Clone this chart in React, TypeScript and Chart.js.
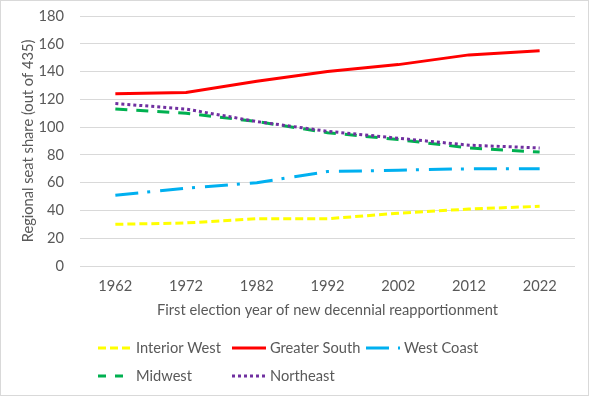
import React, { useEffect, useRef } from "react";
import Chart from "chart.js/auto";

const years = ["1962", "1972", "1982", "1992", "2002", "2012", "2022"];
const interiorWest = [30, 31, 34, 34, 38, 41, 43];
const greaterSouth = [124, 125, 133, 140, 145, 152, 155];
const westCoast = [51, 56, 60, 68, 69, 70, 70];
const midwest = [113, 110, 104, 96, 91, 85, 82];
const northeast = [117, 113, 104, 97, 92, 87, 85];

const yTitle = "Regional seat share (out of 435)";
const xTitle = "First election year of new decennial reapportionment";

const FONT = "Lato, 'Open Sans', sans-serif";
const FS = 14.67;
const TEXT = "#595959";
const GRID = "#d9d9d9";

const legendLayout = [
  { idx: 0, x: 98, y: 348 },
  { idx: 1, x: 232, y: 348 },
  { idx: 2, x: 366, y: 348 },
  { idx: 3, x: 98, y: 376 },
  { idx: 4, x: 232, y: 376 },
];

const customLegend = {
  id: "customLegend",
  beforeDraw(chart: any) {
    const ctx = chart.ctx;
    ctx.save();
    ctx.fillStyle = "#ffffff";
    ctx.fillRect(0, 0, chart.width, chart.height);
    ctx.strokeStyle = GRID;
    ctx.lineWidth = 1;
    ctx.strokeRect(0.5, 0.5, chart.width - 1, chart.height - 1);
    ctx.restore();
  },
  afterDraw(chart: any) {
    const ctx = chart.ctx;
    ctx.save();
    legendLayout.forEach((item) => {
      const ds = chart.data.datasets[item.idx];
      ctx.beginPath();
      ctx.strokeStyle = ds.borderColor;
      ctx.lineWidth = ds.borderWidth;
      ctx.setLineDash(ds.legendDash || ds.borderDash || []);
      ctx.lineCap = "butt";
      ctx.moveTo(item.x, item.y);
      ctx.lineTo(item.x + 34, item.y);
      ctx.stroke();
      ctx.setLineDash([]);
      ctx.fillStyle = TEXT;
      ctx.font = `${FS}px ${FONT}`;
      ctx.textBaseline = "middle";
      ctx.textAlign = "left";
      ctx.fillText(ds.label, item.x + 38, item.y);
    });
    ctx.restore();
  },
};

export default function App() {
  const ref = useRef<HTMLCanvasElement>(null);
  useEffect(() => {
    if (!ref.current) return;
    const chart = new Chart(ref.current, {
      type: "line",
      data: {
        labels: years,
        datasets: [
          {
            label: "Interior West",
            data: interiorWest,
            borderColor: "#FFFF00",
            borderWidth: 3,
            borderDash: [8, 4],
            pointRadius: 0,
            order: 5,
          },
          {
            label: "Greater South",
            data: greaterSouth,
            borderColor: "#FF0000",
            borderWidth: 3,
            pointRadius: 0,
            order: 4,
          },
          {
            label: "West Coast",
            data: westCoast,
            borderColor: "#00B0F0",
            borderWidth: 3,
            borderDash: [23, 9, 3, 10],
            legendDash: [23, 9, 2, 10],
            pointRadius: 0,
            order: 3,
          },
          {
            label: "Midwest",
            data: midwest,
            borderColor: "#00B050",
            borderWidth: 3,
            borderDash: [12, 9],
            legendDash: [8, 9],
            pointRadius: 0,
            order: 2,
          },
          {
            label: "Northeast",
            data: northeast,
            borderColor: "#7030A0",
            borderWidth: 3,
            borderDash: [3, 3],
            pointRadius: 0,
            order: 1,
          },
        ] as any,
      },
      options: {
        responsive: false,
        animation: false,
        layout: { autoPadding: false, padding: { left: 0, right: 14, top: 16, bottom: 70 } },
        plugins: {
          legend: { display: false },
          tooltip: { enabled: false },
        },
        scales: {
          x: {
            offset: true,
            grid: { display: false },
            border: { display: false },
            ticks: { color: TEXT, font: { family: FONT, size: FS }, padding: 3, maxRotation: 0 },
            title: {
              display: true,
              text: xTitle,
              color: TEXT,
              font: { family: FONT, size: FS },
              padding: { top: 0, bottom: 7 },
            },
            afterFit: (s: any) => {
              s.height = 60;
              s.paddingLeft = 0;
              s.paddingRight = 0;
            },
          },
          y: {
            min: 0,
            max: 180,
            ticks: { stepSize: 20, color: TEXT, font: { family: FONT, size: FS }, padding: 16 },
            grid: { color: GRID, drawTicks: false, lineWidth: 1 },
            border: { display: false },
            title: {
              display: true,
              text: yTitle,
              color: TEXT,
              font: { family: FONT, size: FS },
              padding: { top: 19, bottom: 0 },
            },
            afterFit: (s: any) => {
              s.width = 80;
              s.paddingTop = 0;
              s.paddingBottom = 0;
            },
          },
        },
      },
      plugins: [customLegend],
    });
    return () => chart.destroy();
  }, []);
  return (
    <div style={{ position: "fixed", left: 0, top: 0, width: 589, height: 396 }}>
      <canvas ref={ref} width={589} height={396} />
    </div>
  );
}
